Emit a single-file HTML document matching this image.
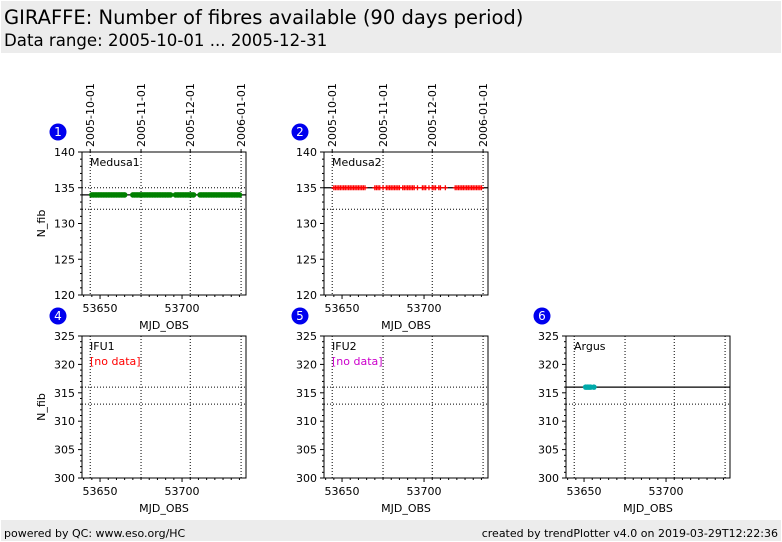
<!DOCTYPE html>
<html><head><meta charset="utf-8"><style>
body{margin:0;background:#fff;font-family:"DejaVu Sans","Liberation Sans",sans-serif}
#wrap{position:relative;width:782px;height:542px;overflow:hidden}
</style></head><body>
<div id="wrap">
<svg id="s" width="782" height="542" xmlns="http://www.w3.org/2000/svg">
<rect x="1" y="1" width="780" height="52" fill="#ececec"/>
<text x="4" y="24" font-size="19.5" fill="#000">GIRAFFE: Number of fibres available (90 days period)</text>
<text x="4" y="46" font-size="16.6" fill="#000">Data range: 2005-10-01 ... 2005-12-31</text>
<rect x="1" y="520" width="780" height="21" fill="#ececec"/>
<text x="4" y="537" font-size="11">powered by QC: www.eso.org/HC</text>
<text x="778" y="537" font-size="11" text-anchor="end">created by trendPlotter v4.0 on 2019-03-29T12:22:36</text>
</svg></div>
<script>
const xTicks=[53650,53700];
const dateMjd=[53644,53675,53705,53736];
const dateLabels=["2005-10-01","2005-11-01","2005-12-01","2006-01-01"];
const p1Values=[53645,53646,53647,53648,53649,53650,53651,53652,53653,53654,53655,53656,53657,53658,53659,53660,53661,53662,53663,53664,53665,53670,53671,53672,53673,53674,53675,53676,53677,53678,53679,53680,53681,53682,53683,53684,53685,53686,53687,53688,53689,53690,53691,53692,53693,53696,53697,53698,53699,53700,53701,53702,53703,53704,53705,53706,53707,53711,53712,53713,53714,53715,53716,53717,53718,53719,53720,53721,53722,53723,53724,53725,53726,53727,53728,53729,53730,53731,53732,53733,53734,53735];
const p2Values=[53645,53646,53647,53648,53649,53650,53651,53652,53653,53654,53655,53656,53657,53658,53659,53660,53661,53662,53663,53664,53670,53671,53672,53673,53675,53677,53678,53679,53680,53681,53682,53683,53684,53685,53687,53688,53689,53690,53691,53692,53693,53694,53696,53699,53700,53701,53703,53705,53706,53707,53709,53710,53713,53719,53720,53721,53722,53723,53724,53725,53726,53727,53728,53729,53730,53731,53732,53733,53734,53735];
const p6Values=[53651,53652,53653,53654,53656];
const panels=[
 {id:1,x:82,y:152,ymin:120,ymax:140,yt:[120,125,130,135,140],label:"Medusa1",solid:134,dots:[135,132],pts:p1Values,pv:134,col:"#008000",mk:"dot",ylab:true,top:true},
 {id:2,x:324,y:152,ymin:120,ymax:140,yt:[120,125,130,135,140],label:"Medusa2",solid:135,dots:[132],pts:p2Values,pv:135,col:"#ff0000",mk:"plus",ylab:false,top:true},
 {id:4,x:82,y:336,ymin:300,ymax:325,yt:[300,305,310,315,320,325],label:"IFU1",nodata:"#ff0000",solid:null,dots:[316,313],pts:[],ylab:true},
 {id:5,x:324,y:336,ymin:300,ymax:325,yt:[300,305,310,315,320,325],label:"IFU2",nodata:"#cc00cc",solid:null,dots:[316,313],pts:[],ylab:false},
 {id:6,x:566,y:336,ymin:300,ymax:325,yt:[300,305,310,315,320,325],label:"Argus",solid:316,dots:[313],pts:p6Values,pv:316,col:"#00aaaa",mk:"dot",ylab:false}
];
const s=document.getElementById('s');const NS="http://www.w3.org/2000/svg";
function mk(t,a,txt){const e=document.createElementNS(NS,t);for(const k in a)e.setAttribute(k,a[k]);if(txt!==undefined)e.textContent=txt;s.appendChild(e);return e;}
const W=164,X0=53639,X1=53739;
panels.forEach(p=>{
 const H=p.id<4?143:142;
 const sx=v=>p.x+(v-X0)/(X1-X0)*W;
 const sy=v=>p.y+H-(v-p.ymin)/(p.ymax-p.ymin)*H;
 dateMjd.forEach(m=>{const e=mk('line',{x1:sx(m),x2:sx(m),y1:p.y,y2:p.y+H,stroke:'#000','stroke-dasharray':'1,2','stroke-width':1});
 });
 p.dots.forEach(v=>{const e=mk('line',{x1:p.x,x2:p.x+W,y1:sy(v),y2:sy(v),stroke:'#000','stroke-dasharray':'1,2'});
 });
 if(p.solid!==null){const e=mk('line',{x1:p.x,x2:p.x+W,y1:sy(p.solid),y2:sy(p.solid),stroke:'#000','stroke-width':1.2});
 }
 p.pts.forEach(m=>{let e;
  if(p.mk==='dot'){e=mk('circle',{cx:sx(m),cy:sy(p.pv),r:2.8,fill:p.col});}
  else{e=mk('path',{d:`M${sx(m)-2.5},${sy(p.pv)}h5M${sx(m)},${sy(p.pv)-2.5}v5`,stroke:p.col,'stroke-width':1.3});}
  });
 const fr=mk('rect',{x:p.x,y:p.y,width:W,height:H,fill:'none',stroke:'#000','stroke-width':1});
 
 for(let v=p.ymin;v<=p.ymax;v++){const major=p.yt.includes(v);
  mk('line',{x1:p.x-(major?4:2),x2:p.x,y1:sy(v),y2:sy(v),stroke:'#000'});}
 p.yt.forEach(v=>{const e=mk('text',{x:p.x-7,y:sy(v)+4,'font-size':11,'text-anchor':'end'},v);
  });
 for(let v=53640;v<=53739;v+=5){const major=xTicks.includes(v);
  mk('line',{x1:sx(v),x2:sx(v),y1:p.y+H,y2:p.y+H+(major?4:2),stroke:'#000'});}
 xTicks.forEach(v=>{const e=mk('text',{x:sx(v),y:p.y+H+17,'font-size':11,'text-anchor':'middle'},v);
  });
 const xl=mk('text',{x:p.x+W/2,y:p.y+H+34,'font-size':11,'text-anchor':'middle'},'MJD_OBS');
 
 if(p.ylab){const yl=mk('text',{x:0,y:0,'font-size':11,'text-anchor':'middle',transform:`translate(45,${p.y+H/2}) rotate(-90)`},'N_fib');
  }
 const lb=mk('text',{x:p.x+8,y:p.y+14,'font-size':11},p.label);
 
 if(p.nodata){const nd=mk('text',{x:p.x+8,y:p.y+29,'font-size':11,fill:p.nodata},'[no data]');
  }
 const bc=mk('circle',{cx:p.x-24,cy:p.y-20,r:8.5,fill:'#0000ee'});
 
 const bt=mk('text',{x:p.x-24,y:p.y-16,'font-size':12,fill:'#fff','text-anchor':'middle'},p.id);
 
 if(p.top){dateMjd.forEach((m,i)=>{
  mk('line',{x1:sx(m),x2:sx(m),y1:p.y,y2:p.y-3,stroke:'#000'});
  const e=mk('text',{x:0,y:0,'font-size':11,transform:`translate(${sx(m)+4},${p.y-5}) rotate(-90)`},dateLabels[i]);
  });}
});
</script>
</body></html>
